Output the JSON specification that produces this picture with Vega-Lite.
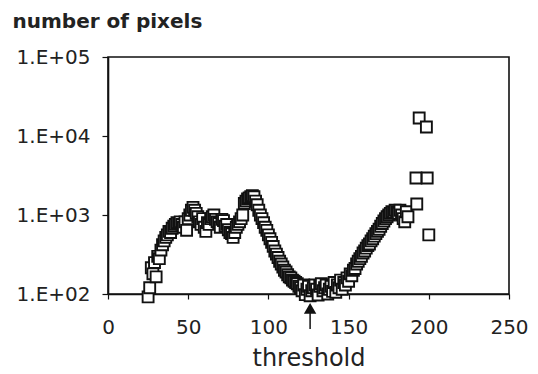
{
  "$schema": "https://vega.github.io/schema/vega-lite/v6.json",
  "width": 401,
  "height": 237,
  "autosize": "none",
  "padding": {"left": 108, "top": 57, "right": 29, "bottom": 80},
  "background": "white",
  "config": {
    "view": {"stroke": "#111", "strokeWidth": 1.6},
    "font": "DejaVu Sans",
    "axis": {"grid": false, "domainColor": "#111", "domainWidth": 1.6, "tickColor": "#111", "tickWidth": 1.2, "labelColor": "#222", "titleColor": "#222", "labelFont": "DejaVu Sans", "titleFont": "DejaVu Sans"}
  },
  "datasets": {
    "pts": [
      {"t":25,"v":92},{"t":26,"v":120},{"t":27,"v":215},{"t":28,"v":180},{"t":29,"v":250},{"t":30,"v":165},
      {"t":31,"v":300},{"t":32,"v":280},{"t":33,"v":360},{"t":34,"v":420},{"t":35,"v":470},{"t":36,"v":520},
      {"t":37,"v":560},{"t":38,"v":620},{"t":39,"v":600},{"t":40,"v":680},{"t":41,"v":720},{"t":42,"v":760},
      {"t":43,"v":800},{"t":44,"v":780},{"t":45,"v":820},{"t":46,"v":760},{"t":47,"v":700},{"t":48,"v":820},
      {"t":49,"v":640},{"t":50,"v":900},{"t":51,"v":1000},{"t":52,"v":1150},{"t":53,"v":1250},{"t":54,"v":1150},
      {"t":55,"v":1050},{"t":56,"v":950},{"t":57,"v":820},{"t":58,"v":760},{"t":59,"v":900},{"t":60,"v":700},
      {"t":61,"v":620},{"t":62,"v":800},{"t":63,"v":760},{"t":64,"v":900},{"t":65,"v":950},{"t":66,"v":1000},
      {"t":67,"v":880},{"t":68,"v":820},{"t":69,"v":780},{"t":70,"v":700},{"t":71,"v":880},{"t":72,"v":850},
      {"t":73,"v":720},{"t":74,"v":760},{"t":75,"v":650},{"t":76,"v":600},{"t":77,"v":580},{"t":78,"v":520},
      {"t":79,"v":600},{"t":80,"v":700},{"t":81,"v":760},{"t":82,"v":820},{"t":83,"v":900},{"t":84,"v":1000},
      {"t":85,"v":1400},{"t":86,"v":1500},{"t":87,"v":1600},{"t":88,"v":1650},{"t":89,"v":1700},{"t":90,"v":1750},
      {"t":91,"v":1700},{"t":92,"v":1500},{"t":93,"v":1350},{"t":94,"v":1150},{"t":95,"v":1000},{"t":96,"v":900},
      {"t":97,"v":800},{"t":98,"v":700},{"t":99,"v":640},{"t":100,"v":560},{"t":101,"v":500},{"t":102,"v":450},
      {"t":103,"v":400},{"t":104,"v":350},{"t":105,"v":320},{"t":106,"v":290},{"t":107,"v":260},{"t":108,"v":240},
      {"t":109,"v":220},{"t":110,"v":200},{"t":111,"v":190},{"t":112,"v":175},{"t":113,"v":165},{"t":114,"v":160},
      {"t":115,"v":150},{"t":116,"v":145},{"t":117,"v":140},{"t":118,"v":135},{"t":119,"v":125},{"t":120,"v":120},
      {"t":121,"v":110},{"t":122,"v":130},{"t":123,"v":98},{"t":124,"v":115},{"t":125,"v":125},{"t":126,"v":95},
      {"t":127,"v":110},{"t":128,"v":120},{"t":129,"v":130},{"t":130,"v":115},{"t":131,"v":97},{"t":132,"v":125},
      {"t":133,"v":135},{"t":134,"v":110},{"t":135,"v":120},{"t":136,"v":130},{"t":137,"v":100},{"t":138,"v":115},
      {"t":139,"v":125},{"t":140,"v":108},{"t":141,"v":140},{"t":142,"v":105},{"t":143,"v":130},{"t":144,"v":120},
      {"t":145,"v":150},{"t":146,"v":115},{"t":147,"v":140},{"t":148,"v":130},{"t":149,"v":160},{"t":150,"v":145},
      {"t":151,"v":180},{"t":152,"v":170},{"t":153,"v":200},{"t":154,"v":210},{"t":155,"v":240},{"t":156,"v":260},
      {"t":157,"v":280},{"t":158,"v":300},{"t":159,"v":330},{"t":160,"v":350},{"t":161,"v":380},{"t":162,"v":410},
      {"t":163,"v":430},{"t":164,"v":470},{"t":165,"v":500},{"t":166,"v":540},{"t":167,"v":580},{"t":168,"v":620},
      {"t":169,"v":660},{"t":170,"v":720},{"t":171,"v":780},{"t":172,"v":840},{"t":173,"v":900},{"t":174,"v":950},
      {"t":175,"v":1000},{"t":176,"v":1050},{"t":177,"v":1100},{"t":178,"v":1080},{"t":179,"v":1150},{"t":180,"v":1100},
      {"t":181,"v":1050},{"t":182,"v":1150},{"t":183,"v":1000},{"t":184,"v":900},{"t":185,"v":820},{"t":186,"v":1100},
      {"t":187,"v":950},{"t":192.5,"v":1380},
      {"t":194,"v":16900},{"t":198.5,"v":13000},
      {"t":192,"v":2940},{"t":199,"v":2940},{"t":200,"v":560}
    ],
    "arrow": [{"t":126,"lo":36,"hi":58,"head":65}]
  },
  "layer": [
    {
      "data": {"name": "pts"},
      "mark": {"type": "point", "shape": "square", "filled": false, "fill": "white", "stroke": "#111", "strokeWidth": 1.9, "size": 120, "opacity": 1, "clip": false},
      "encoding": {
        "x": {"field": "t", "type": "quantitative",
              "scale": {"domain": [0, 250], "nice": false, "zero": false},
              "axis": {"values": [0, 50, 100, 150, 200, 250], "title": "threshold", "labelFontSize": 20, "titleFontSize": 24, "titleFontWeight": "normal", "tickSize": 5, "labelPadding": 18, "titlePadding": 9, "labelFlush": false}},
        "y": {"field": "v", "type": "quantitative",
              "scale": {"type": "log", "domain": [100, 100000], "nice": false},
              "axis": {"values": [100, 1000, 10000, 100000], "labelExpr": "'1.E+0' + round(log(datum.value)/LN10)", "labelFontSize": 20, "tickSize": 6, "labelPadding": 12,
                       "title": "number of pixels", "titleAngle": 0, "titleAlign": "left", "titleBaseline": "middle", "titleX": -96, "titleY": -36, "titleFontSize": 20, "titleFontWeight": "bold"}}
      }
    },
    {
      "data": {"name": "arrow"},
      "mark": {"type": "rule", "stroke": "#111", "strokeWidth": 1.5, "clip": false},
      "encoding": {
        "x": {"field": "t", "type": "quantitative"},
        "y": {"field": "lo", "type": "quantitative"},
        "y2": {"field": "hi"}
      }
    },
    {
      "data": {"name": "arrow"},
      "mark": {"type": "point", "shape": "triangle-up", "filled": true, "fill": "#111", "stroke": "#111", "size": 80, "opacity": 1, "clip": false},
      "encoding": {
        "x": {"field": "t", "type": "quantitative"},
        "y": {"field": "head", "type": "quantitative"}
      }
    }
  ]
}
